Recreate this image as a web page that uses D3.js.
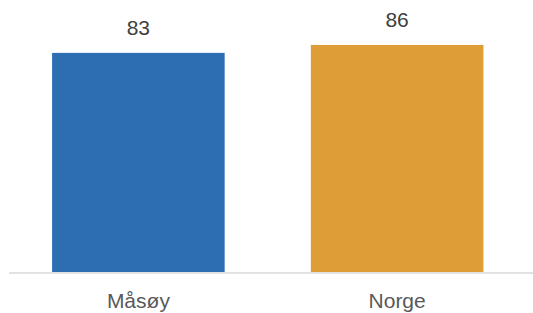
<!DOCTYPE html>
<html>
<head>
<meta charset="utf-8">
<script src="https://cdn.jsdelivr.net/npm/d3@7"></script>
<style>
  body { margin: 0; background: #fff; }
  text { font-family: "Liberation Sans", Arial, sans-serif; }
</style>
</head>
<body>
<script>
// data
var kategorier = ["Måsøy", "Norge"]
var verdier = [83, 86]
var farger = ["#2d6eb3", "#de9d36"]

var width = 533
var height = 313

var margin = { top: 8, bottom: 41, left: 9, right: 6.5 }

var svg = d3.select("body")
    .append("svg")
    .attr("width", width)
    .attr("height", height)

// skalaer
var escalaX = d3.scaleBand()
    .domain(kategorier)
    .range([margin.left, width - margin.right])
    .paddingInner(0.333)
    .paddingOuter(0.1665)

var escalaY = d3.scaleLinear()
    .domain([0, 100])
    .range([height - margin.bottom, margin.top])

// stolper
svg.selectAll("rect")
    .data(verdier)
    .enter()
    .append("rect")
    .attr("x", (d, i) => escalaX(kategorier[i]))
    .attr("y", d => escalaY(d))
    .attr("width", escalaX.bandwidth())
    .attr("height", d => escalaY(0) - escalaY(d))
    .attr("fill", (d, i) => farger[i])

// verdi-etiketter
svg.selectAll(".verdi")
    .data(verdier)
    .enter()
    .append("text")
    .attr("class", "verdi")
    .attr("x", (d, i) => escalaX(kategorier[i]) + escalaX.bandwidth() / 2)
    .attr("y", d => escalaY(d) - 18)
    .attr("text-anchor", "middle")
    .attr("font-size", "21px")
    .attr("fill", "#404040")
    .text(d => d)

// x-akse
var ejeX = d3.axisBottom(escalaX).tickSize(0).tickPadding(20)

var gX = svg.append("g")
    .attr("transform", "translate(0," + (escalaY(0) + 1) + ")")
    .call(ejeX)

gX.select(".domain").remove()
gX.append("line")
    .attr("x1", margin.left)
    .attr("x2", width)
    .attr("stroke", "#d9d9d9")
    .attr("stroke-width", 1.5)

gX.selectAll(".tick text")
    .attr("font-size", "21px")
    .attr("font-family", "Liberation Sans, Arial, sans-serif")
    .attr("fill", "#595959")
</script>
</body>
</html>
